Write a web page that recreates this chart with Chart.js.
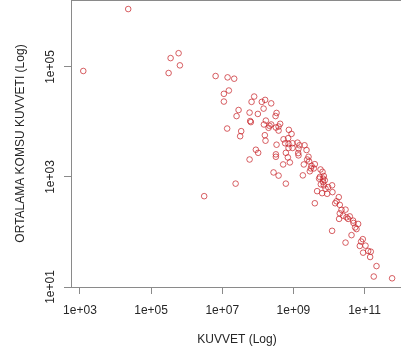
<!DOCTYPE html>
<html lang="tr">
<head>
  <meta charset="UTF-8" />
  <title>Kuvvet - Ortalama Komsu Kuvveti</title>
  <script src="https://cdn.jsdelivr.net/npm/chart.js"></script>
  <style>
    html, body {
      margin: 0;
      padding: 0;
      background: #ffffff;
      overflow: hidden;
    }
    .wrap {
      position: relative;
      width: 405px;
      height: 356px;
    }
  </style>
</head>
<body>
  <div class="wrap"><canvas id="scatter"></canvas></div>

  <script>
    // KUVVET (x) and ORTALAMA KOMSU KUVVETI (y)
    const kuvvet = [
      1.24e3, 2.27e4, 5.92e5, 3.53e5, 6.44e5, 3.10e5, 3.10e6, 6.49e6, 1.41e7, 2.16e7,
      1.53e7, 1.11e7, 1.11e7, 7.87e7, 6.65e7, 1.29e8, 1.60e8, 2.37e8, 1.45e8, 2.87e7,
      2.52e7, 5.85e7, 1.00e8, 3.35e8, 3.14e8, 6.08e7, 6.35e7, 1.68e8, 1.48e8, 2.13e8,
      2.37e8, 2.00e8, 4.23e8, 3.82e8, 3.21e8, 1.37e7, 3.40e7, 3.18e7, 3.82e8, 7.43e8,
      8.85e8, 1.57e8, 1.64e8, 5.27e8, 7.10e8, 5.85e8, 3.35e8, 7.28e8, 9.44e8, 1.30e9,
      1.48e9, 2.05e9, 7.28e8, 9.44e8, 1.39e9, 2.33e9, 8.79e7, 1.02e8, 6.12e8, 3.21e8,
      3.21e8, 6.97e8, 1.36e9, 1.39e9, 7.93e8, 2.65e9, 2.43e9, 2.76e9, 5.85e7, 5.14e8,
      1.96e9, 3.22e9, 3.99e9, 3.08e9, 3.74e9, 5.77e9, 6.56e9, 2.76e8, 3.82e8, 1.84e9,
      5.52e9, 7.14e9, 2.37e7, 6.12e8, 6.82e9, 5.27e9, 6.82e9, 5.89e9, 7.14e9, 1.22e10,
      9.44e9, 7.98e9, 4.63e9, 6.40e9, 8.85e9, 1.25e10, 1.88e10, 1.63e10, 1.49e10, 3.99e9,
      2.01e10, 2.24e10, 2.91e10, 2.01e10, 2.49e10, 1.92e10, 3.10e10, 3.84e10, 3.44e10, 4.75e10,
      4.88e10, 6.58e10, 5.41e10, 5.92e10, 1.22e10, 4.29e10, 2.91e10, 8.89e10, 7.98e10, 7.33e10,
      1.06e11, 1.26e11, 1.49e11, 9.08e10, 1.43e11, 2.16e11, 1.81e11, 5.93e11, 7.62e9, 2.89e9
    ];
    const ortKomsuKuvvet = [
      8.45e4, 1.13e6, 1.78e5, 1.45e5, 1.07e5, 7.76e4, 448, 6.84e4, 6.47e4, 6.12e4,
      3.73e4, 3.25e4, 2.35e4, 2.90e4, 2.32e4, 2.32e4, 2.52e4, 2.18e4, 1.75e4, 1.65e4,
      1.28e4, 1.48e4, 1.40e4, 1.46e4, 1.28e4, 1.04e4, 9950, 1.06e4, 9000, 8510,
      9000, 7830, 9270, 8260, 7920, 7600, 6810, 5510, 6980, 7190,
      6070, 5750, 4570, 4850, 5070, 4100, 3860, 3980, 4100, 4210,
      3770, 3770, 3370, 3370, 3270, 3090, 3130, 2750, 2750, 2580,
      2330, 2270, 2720, 2470, 1840, 2330, 2080, 1920, 2080, 1690,
      1690, 1590, 1710, 1430, 1430, 1370, 1240, 1210, 1060, 1070,
      1000, 1040, 757, 757, 933, 933, 809, 735, 705, 705,
      655, 612, 553, 508, 495, 531, 430, 362, 333, 333,
      311, 252, 255, 218, 198, 173, 185, 192, 173, 161,
      146, 140, 121, 113, 105, 87.7, 64.1, 74.1, 67.0, 55.8,
      56.5, 45.2, 43.9, 42.1, 35.1, 24.0, 15.5, 14.4, 869, 1270
    ];

    const xTickValues = [1e3, 1e5, 1e7, 1e9, 1e11];
    const xTickLabels = ['1e+03', '1e+05', '1e+07', '1e+09', '1e+11'];
    const yTickValues = [1e1, 1e3, 1e5];
    const yTickLabels = ['1e+01', '1e+03', '1e+05'];

    const points = kuvvet.map((x, i) => ({ x: x, y: ortKomsuKuvvet[i] }));

    const axisGray = '#8a8a8a';
    const textColor = '#262626';
    const font = { family: "'Liberation Sans', Arial, sans-serif", size: 12 };

    // R style box round the plot region
    const frame = {
      id: 'frame',
      afterDraw(chart) {
        const { ctx, chartArea } = chart;
        ctx.save();
        ctx.strokeStyle = axisGray;
        ctx.lineWidth = 1;
        ctx.strokeRect(
          Math.round(chartArea.left) + 0.5,
          Math.round(chartArea.top) + 0.5,
          Math.round(chartArea.right - chartArea.left),
          Math.round(chartArea.bottom - chartArea.top)
        );
        ctx.restore();
      }
    };

    new Chart(document.getElementById('scatter'), {
      type: 'scatter',
      data: {
        datasets: [{
          data: points,
          pointStyle: 'circle',
          pointRadius: 2.8,
          pointHoverRadius: 2.8,
          borderWidth: 1,
          borderColor: 'rgba(200, 35, 40, 0.72)',
          backgroundColor: 'rgba(0, 0, 0, 0)',
          clip: false
        }]
      },
      options: {
        responsive: true,
        maintainAspectRatio: false,
        animation: false,
        layout: { autoPadding: false, padding: { top: 0, right: 2, left: 0, bottom: 0 } },
        plugins: {
          legend: { display: false },
          tooltip: { enabled: false }
        },
        scales: {
          x: {
            type: 'logarithmic',
            min: 560,
            max: 1.2e12,
            afterBuildTicks: (scale) => {
              scale.ticks = xTickValues.map(v => ({ value: v }));
            },
            afterFit: (scale) => {
              scale.height = 69;
              scale.paddingLeft = 0;
              scale.paddingRight = 0;
            },
            border: { display: false },
            grid: { drawOnChartArea: false, drawTicks: true, tickLength: 7, color: axisGray },
            ticks: {
              autoSkip: false,
              maxRotation: 0,
              padding: 9,
              color: textColor,
              font: font,
              callback: (value, index) => xTickLabels[index]
            },
            title: {
              display: true,
              text: 'KUVVET (Log)',
              color: textColor,
              font: font,
              padding: { top: 0, bottom: 9 }
            }
          },
          y: {
            type: 'logarithmic',
            min: 10,
            max: 1.65e6,
            afterBuildTicks: (scale) => {
              scale.ticks = yTickValues.map(v => ({ value: v }));
            },
            afterFit: (scale) => {
              scale.width = 71;
              scale.paddingTop = 0;
              scale.paddingBottom = 0;
            },
            border: { display: false },
            grid: { drawOnChartArea: false, drawTicks: true, tickLength: 7, color: axisGray },
            ticks: {
              autoSkip: false,
              minRotation: 90,
              maxRotation: 90,
              crossAlign: 'center',
              padding: -4,
              color: textColor,
              font: font,
              callback: (value, index) => yTickLabels[index]
            },
            title: {
              display: true,
              text: 'ORTALAMA KOMSU KUVVETI (Log)',
              color: textColor,
              font: font,
              padding: { top: 13, bottom: 0 }
            }
          }
        }
      },
      plugins: [frame]
    });
  </script>
</body>
</html>
